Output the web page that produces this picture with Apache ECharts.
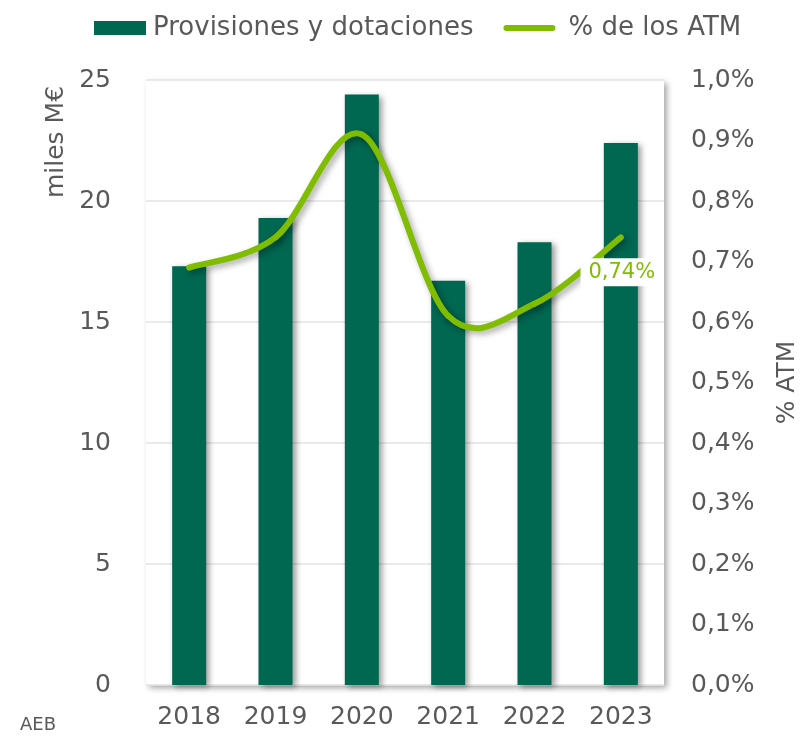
<!DOCTYPE html>
<html><head><meta charset="utf-8">
<script src="https://cdn.jsdelivr.net/npm/echarts@6/dist/echarts.min.js"></script>
<style>html,body{margin:0;padding:0;background:#fff}#c{width:800px;height:737px}</style>
</head><body><div id="c"></div>
<script>
const categories = ['2018','2019','2020','2021','2022','2023'];
const provisiones = [17.3, 19.3, 24.4, 16.7, 18.3, 22.4];
const pctATM = [0.69, 0.74, 0.91, 0.61, 0.63, 0.74];
const leftTicks = {min: 0, max: 25, interval: 5};
const rightTicks = {min: 0, max: 1.0, interval: 0.1};

const FONT = '"DejaVu Sans", Verdana, sans-serif';
const GREY = '#595959';
const BAR = '#006751';
const LINE = '#80BC00';
const fmtPct = v => v.toFixed(2).replace('.', ',') + '%';

// Smooth curve (Catmull-Rom style Bezier, like spreadsheet smoothing) through the
// points given by the library's coordinate system.
function renderLine(params, api) {
  if (params.dataIndex !== 0) return null;
  const pts = pctATM.map((v, i) => api.coord([i, v]));
  const n = pts.length;
  const children = [];
  const shadow = {shadowColor: 'rgba(0,0,0,0.35)', shadowBlur: 6, shadowOffsetX: 3, shadowOffsetY: 3};
  for (let i = 0; i < n - 1; i++) {
    const p0 = pts[Math.max(i - 1, 0)], p1 = pts[i], p2 = pts[i + 1], p3 = pts[Math.min(i + 2, n - 1)];
    children.push({
      type: 'bezierCurve',
      shape: {
        x1: p1[0], y1: p1[1], x2: p2[0], y2: p2[1],
        cpx1: p1[0] + (p2[0] - p0[0]) / 6, cpy1: p1[1] + (p2[1] - p0[1]) / 6,
        cpx2: p2[0] - (p3[0] - p1[0]) / 6, cpy2: p2[1] - (p3[1] - p1[1]) / 6
      },
      style: Object.assign({stroke: LINE, lineWidth: 6, fill: null, lineCap: 'round', lineJoin: 'round'}, shadow),
      z2: 1
    });
  }
  const last = pts[n - 1];
  children.push({
    type: 'text', z2: 10,
    x: last[0] + 1, y: last[1] + 35,
    style: {
      text: fmtPct(pctATM[n - 1]), fill: LINE, font: '21px ' + FONT,
      align: 'center', verticalAlign: 'middle',
      backgroundColor: '#fff', padding: [4, 8, 3, 8]
    }
  });
  return {type: 'group', children};
}

const chart = echarts.init(document.getElementById('c'));
chart.setOption({
  animation: false,
  textStyle: {fontFamily: FONT},
  legend: {
    top: 10, left: 89, itemGap: 30, itemWidth: 52, itemHeight: 14,
    textStyle: {fontFamily: FONT, fontSize: 26, color: GREY, padding: [0, 0, 0, 2]},
    data: [
      {name: 'Provisiones y dotaciones', icon: 'rect'},
      {name: '% de los ATM', icon: 'path://M3,0 L49,0 A3,3 0 0 1 49,6 L3,6 A3,3 0 0 1 3,0 Z',
        textStyle: {padding: [0, 0, 0, 8]}}
    ]
  },
  grid: {
    left: 146, right: 136, top: 80, bottom: 52, show: true,
    containLabel: false, outerBoundsMode: 'none',
    backgroundColor: '#fff', borderWidth: 0,
    shadowColor: 'rgba(0,0,0,0.35)', shadowBlur: 6, shadowOffsetX: 3, shadowOffsetY: 3
  },
  xAxis: {
    type: 'category', data: categories,
    axisLine: {show: false}, axisTick: {show: false},
    axisLabel: {fontFamily: FONT, fontSize: 25, color: GREY, margin: 20}
  },
  yAxis: [
    {
      type: 'value', min: leftTicks.min, max: leftTicks.max, interval: leftTicks.interval,
      axisLine: {show: false}, axisTick: {show: false},
      axisLabel: {fontFamily: FONT, fontSize: 25, color: GREY, margin: 35},
      splitLine: {lineStyle: {color: '#e3e3e3', width: 1.5}}
    },
    {
      type: 'value', min: rightTicks.min, max: rightTicks.max, interval: rightTicks.interval,
      position: 'right',
      name: '% ATM', nameLocation: 'middle', nameGap: 111, nameRotate: 90,
      nameTextStyle: {fontFamily: FONT, fontSize: 25, color: GREY},
      axisLine: {show: false}, axisTick: {show: false},
      axisLabel: {fontFamily: FONT, fontSize: 25, color: GREY, margin: 27,
        formatter: v => v.toFixed(1).replace('.', ',') + '%'},
      splitLine: {show: false}
    }
  ],
  graphic: [
    {type: 'text', left: 20, top: 716, style: {text: 'AEB', font: '18px ' + FONT, fill: GREY}},
    {type: 'text', x: 56, y: 142, rotation: Math.PI / 2,
      style: {text: 'miles M€', font: '25px ' + FONT, fill: GREY, align: 'center', verticalAlign: 'middle'}}
  ],
  series: [
    {
      name: 'Provisiones y dotaciones', type: 'bar', data: provisiones, barWidth: 34,
      itemStyle: {color: BAR, shadowColor: 'rgba(0,0,0,0.4)', shadowBlur: 6, shadowOffsetX: 3, shadowOffsetY: 2}
    },
    {
      name: '% de los ATM', type: 'custom', yAxisIndex: 1, z: 5,
      data: pctATM.map((v, i) => [i, v]),
      encode: {x: 0, y: 1},
      itemStyle: {color: LINE},
      renderItem: renderLine
    }
  ]
});
</script></body></html>
